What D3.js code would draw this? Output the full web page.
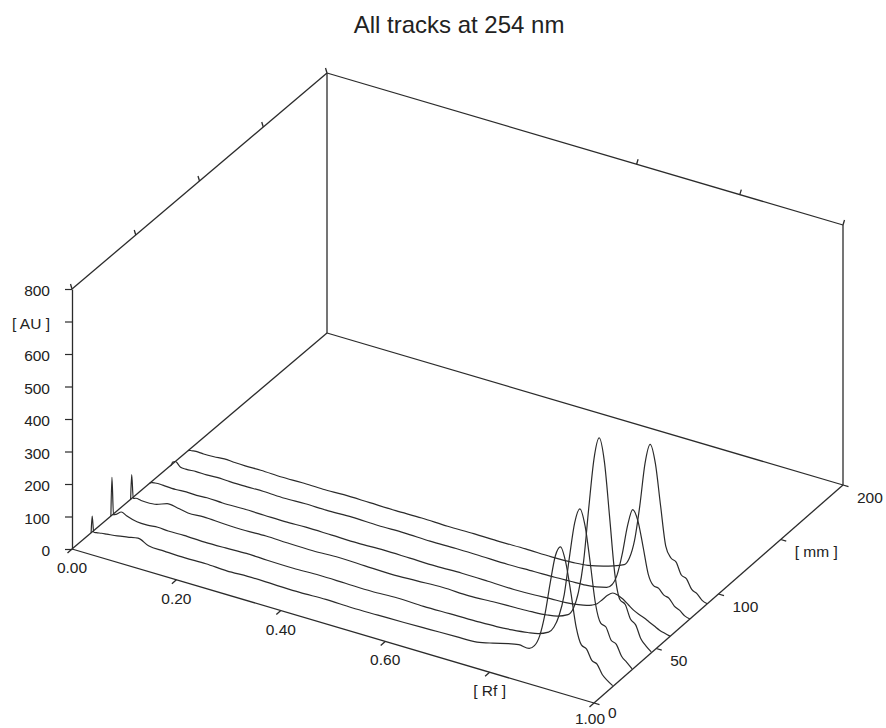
<!DOCTYPE html>
<html>
<head>
<meta charset="utf-8">
<script src="https://cdn.jsdelivr.net/npm/d3@7"></script>
<style>
  body { margin: 0; background: #fff; }
  text { font-family: "Liberation Sans", Arial, sans-serif; fill: #222; }
</style>
</head>
<body>
<svg></svg>
<script>
const title = 'All tracks at 254 nm';

const auTicks = [0, 100, 200, 300, 400, 500, 600, 700, 800];
const auLabels = ['0', '100', '200', '300', '400', '500', '600', '[ AU ]', '800'];
const rfTicks = [0, 0.2, 0.4, 0.6, 0.8, 1.0];
const rfLabels = ['0.00', '0.20', '0.40', '0.60', '[ Rf ]', '1.00'];
const mmTicks = [0, 50, 100, 150, 200];
const mmLabels = ['0', '50', '100', '[ mm ]', '200'];

// position of each track on the plate [mm]
const trackMm = [15, 30.5, 46, 61, 77, 91];

// Rf positions where the scans were read
const rfGrid = [0, 0.002, 0.005, 0.01, 0.02, 0.03, 0.05, 0.07, 0.09, 0.11, 0.14, 0.18, 0.22, 0.26,
  0.30, 0.35, 0.40, 0.45, 0.50, 0.55, 0.60, 0.65, 0.70, 0.74, 0.77, 0.80, 0.82, 0.84, 0.85,
  0.86, 0.87, 0.88, 0.89, 0.90, 0.91, 0.92, 0.93, 0.94, 0.95, 0.96, 0.97, 0.98, 0.99, 1.00];

// signal [AU] of each track at rfGrid
const track1 = [0, 52, 4, 5, 8, 10, 14, 20, 26, 12, 10, 8, 9, 6,
  8, 7, 6, 8, 6, 7, 8, 10, 12, 14, 25, 38, 44, 42, 55,
  90, 160, 260, 350, 383, 340, 250, 150, 100, 92, 62, 55, 28, 14, 3];
const track2 = [0, 120, 6, 10, 22, 15, 6, 5, 8, 6, 7, 5, 6, 8,
  6, 5, 7, 6, 5, 8, 6, 7, 8, 10, 14, 20, 26, 40, 60,
  100, 170, 290, 400, 448, 400, 290, 170, 115, 108, 72, 64, 32, 18, 3];
const track3 = [0, 77, 5, 8, 6, 5, 8, 20, 16, 10, 12, 9, 8, 10,
  8, 7, 10, 8, 6, 9, 12, 10, 14, 16, 18, 22, 28, 42, 65,
  120, 220, 390, 545, 614, 545, 380, 210, 135, 125, 85, 72, 34, 16, 3];
const track4 = [0, 2, 4, 5, 6, 5, 4, 6, 5, 7, 5, 6, 5, 4,
  6, 5, 4, 6, 5, 4, 6, 5, 3, 5, 8, 10, 14, 20, 26,
  35, 52, 70, 82, 80, 72, 60, 48, 40, 34, 26, 18, 10, 5, 1];
const track5 = [0, 3, 14, 18, 5, 4, 6, 5, 7, 6, 5, 6, 4, 6,
  5, 7, 5, 6, 4, 5, 4, 3, 5, 6, 8, 10, 14, 22, 35,
  70, 140, 230, 285, 255, 180, 100, 70, 66, 50, 45, 26, 18, 5, 0];
const track6 = [0, 2, 3, 4, 5, 4, 5, 8, 6, 5, 6, 4, 5, 4,
  6, 5, 4, 5, 3, 4, 3, 4, 3, 5, 10, 22, 32, 45, 70,
  130, 240, 375, 439, 385, 260, 140, 108, 100, 65, 58, 30, 22, 6, 0];
const tracks = [track1, track2, track3, track4, track5, track6];

const svg = d3.select('svg')
  .attr('width', 886)
  .attr('height', 728);

// floor corners of the box on screen
const floor = {
  f00: [72, 549],   // Rf 0, 0 mm
  f10: [594, 703],  // Rf 1, 0 mm
  f01: [327, 333],  // Rf 0, 200 mm
  f11: [843, 485]   // Rf 1, 200 mm
};

const rfScale = d3.scaleLinear().domain([0, 1]).range([0, 1]);
const mmScale = d3.scaleLinear().domain([0, 200]).range([0, 1]);
const auScale = d3.scaleLinear().domain([0, 800]).range([0, 260]);

const project = (rf, mm, au) => {
  const s = rfScale(rf), t = mmScale(mm);
  const w00 = (1 - s) * (1 - t), w10 = s * (1 - t), w01 = (1 - s) * t, w11 = s * t;
  const x = w00 * floor.f00[0] + w10 * floor.f10[0] + w01 * floor.f01[0] + w11 * floor.f11[0];
  const y = w00 * floor.f00[1] + w10 * floor.f10[1] + w01 * floor.f01[1] + w11 * floor.f11[1];
  return [x, y - auScale(au)];
};

const ink = '#2b2b2b';
const g = svg.append('g');

// box frame
const seg = (a, b) => g.append('line')
  .attr('x1', a[0]).attr('y1', a[1]).attr('x2', b[0]).attr('y2', b[1])
  .attr('stroke', ink).attr('stroke-width', 1.3);

seg(project(0, 0, 0), project(0, 200, 0));
seg(project(0, 200, 0), project(1, 200, 0));
seg(project(0, 200, 0), project(0, 200, 800));
seg(project(1, 200, 0), project(1, 200, 800));
seg(project(0, 0, 800), project(0, 200, 800));
seg(project(0, 200, 800), project(1, 200, 800));
seg(project(0, 0, 0), project(1, 0, 0));
seg(project(1, 0, 0), project(1, 200, 0));

// vertical AU axis
const yAxisScale = d3.scaleLinear().domain([0, 800])
  .range([project(0, 0, 0)[1], project(0, 0, 800)[1]]);
const yAxis = d3.axisLeft(yAxisScale)
  .tickValues(auTicks)
  .tickSize(7)
  .tickSizeOuter(0)
  .tickPadding(15)
  .tickFormat((d, i) => auLabels[i]);
const ya = g.append('g')
  .attr('transform', `translate(${project(0, 0, 0)[0]},0)`)
  .call(yAxis);
ya.select('.domain').attr('stroke', ink).attr('stroke-width', 1.3);
ya.selectAll('.tick line').attr('stroke', ink).attr('stroke-width', 1.2);
ya.selectAll('.tick text').attr('font-size', '15.5px').attr('dy', '0.45em')
  .style('font-family', '"Liberation Sans", Arial, sans-serif').attr('fill', '#222');

// Rf ticks along the front edge
rfTicks.forEach((v, i) => {
  const p = project(v, 0, 0);
  seg(p, [p[0] - 4.5, p[1] + 4]);
  g.append('text')
    .attr('x', v === 1 ? p[0] - 4 : p[0]).attr('y', v === 1 ? p[1] + 21 : p[1] + 24)
    .attr('text-anchor', 'middle')
    .attr('font-size', '15.5px')
    .text(rfLabels[i]);
});

// mm ticks along the right edge
mmTicks.forEach((v, i) => {
  const p = project(1, v, 0);
  seg(p, [p[0] + 5.5, p[1] + 1.6]);
  g.append('text')
    .attr('x', p[0] + 14).attr('y', v === 0 ? p[1] + 15 : p[1] + 17.5)
    .attr('font-size', '15.5px')
    .text(mmLabels[i]);
});

// small ticks on the top edges
mmTicks.forEach(v => {
  const p = project(0, v, 800);
  seg(p, [p[0] - 1.5, p[1] - 5]);
});
[0.6, 0.8, 1.0].forEach(v => {
  const p = project(v, 200, 800);
  seg(p, [p[0] + 1.5, p[1] - 5]);
});

// scans
const line = d3.line().curve(d3.curveMonotoneX);
tracks.forEach((vals, k) => {
  const pts = rfGrid.map((rf, i) => project(rf, trackMm[k], vals[i]));
  g.append('path')
    .attr('d', line(pts))
    .attr('fill', 'none')
    .attr('stroke', ink)
    .attr('stroke-width', 1.2);
});

svg.append('text')
  .attr('x', 459).attr('y', 33)
  .attr('text-anchor', 'middle')
  .attr('font-size', '24px')
  .text(title);
</script>
</body>
</html>
